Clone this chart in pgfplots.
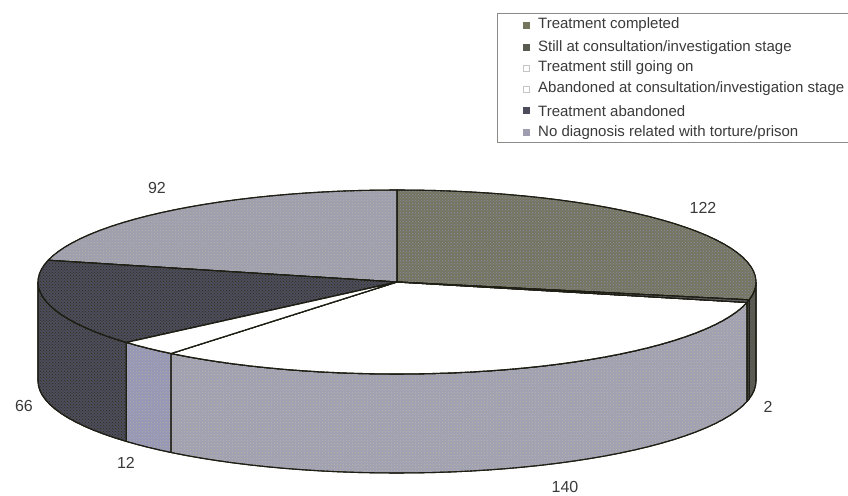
\documentclass[border=0pt]{standalone}
\usepackage{pgfplots}
\pgfplotsset{compat=1.18}
\usepackage{fontspec}
\usetikzlibrary{patterns}
\setmainfont{Liberation Sans}

% slice colours (base and stipple)
\definecolor{edge}{HTML}{1E1E14}
\definecolor{completedTop}{HTML}{757560}
\definecolor{completedDot}{HTML}{8C8CA8}
\definecolor{completedWall}{HTML}{5A5A50}
\definecolor{stillWall}{HTML}{5E5E62}
\definecolor{goingWall}{HTML}{A0A0B4}
\definecolor{goingDot}{HTML}{B8B8A4}
\definecolor{abandConsWall}{HTML}{9696B8}
\definecolor{abandConsDot}{HTML}{B0B0A0}
\definecolor{abandTop}{HTML}{4C4C5C}
\definecolor{abandDot}{HTML}{2E2E18}
\definecolor{noDiagTop}{HTML}{9E9EB0}
\definecolor{noDiagDot}{HTML}{B4B4A2}
\definecolor{frameGrey}{HTML}{8A8A86}
\definecolor{legendInk}{HTML}{3A3A3A}

% patient counts per outcome
\def\vA{122}\def\vB{2}\def\vC{140}\def\vD{12}\def\vE{66}\def\vF{92}
\pgfmathsetmacro\total{\vA+\vB+\vC+\vD+\vE+\vF}
\pgfmathsetmacro\aA{\vA/\total*360}
\pgfmathsetmacro\aB{\aA+\vB/\total*360}
\pgfmathsetmacro\aC{\aB+\vC/\total*360}
\pgfmathsetmacro\aD{\aC+\vD/\total*360}
\pgfmathsetmacro\aE{\aD+\vE/\total*360}

% pie geometry on the pixel-sized axis
\def\cx{397}\def\cy{282}\def\rx{359}\def\ry{92}\def\depth{99}

% appends points of the rim between two angles, shifted down by #3
\def\rimpoints#1#2#3{%
  \pgfmathtruncatemacro\nseg{max(1,ceil(abs(#2-#1)/3))}%
  \foreach \k in {0,...,\nseg}{%
    \pgfmathsetmacro\ang{#1+(#2-#1)*\k/\nseg}%
    \pgfmathsetmacro\px{\cx+\rx*sin(\ang)}%
    \pgfmathsetmacro\py{\cy-\ry*cos(\ang)+#3}%
    \xdef\pts{\pts (\px,\py)}%
  }}
% upper face of one slice: angles, base colour, stipple colour
\def\topslice#1#2#3#4{%
  \gdef\pts{(\cx,\cy)}%
  \rimpoints{#1}{#2}{0}%
  \xdef\pts{\pts (\cx,\cy)}%
  \edef\cmd{\noexpand\addplot[fill=#3,draw=edge,line width=1.1pt,line join=round,
    postaction={pattern=crosshatch dots,pattern color=#4}] coordinates {\pts};}%
  \cmd}
% outer wall of one slice: angles, base colour, stipple colour
\def\wallslice#1#2#3#4{%
  \gdef\pts{}%
  \rimpoints{#1}{#2}{0}%
  \rimpoints{#2}{#1}{\depth}%
  \pgfmathsetmacro\qx{\cx+\rx*sin(#1)}%
  \pgfmathsetmacro\qy{\cy-\ry*cos(#1)}%
  \xdef\pts{\pts (\qx,\qy)}%
  \edef\cmd{\noexpand\addplot[fill=#3,draw=edge,line width=1.1pt,line join=round,
    postaction={pattern=crosshatch dots,pattern color=#4}] coordinates {\pts};}%
  \cmd}

\begin{document}
\begin{tikzpicture}
\begin{axis}[
  scale only axis, width=848pt, height=494pt,
  xmin=0, xmax=848, ymin=0, ymax=494, y dir=reverse,
  hide axis, clip=false,
]
  % keep the whole plotting area inside the page
  \path (axis cs:0,0) (axis cs:848,494);

  % walls, from the sides towards the front
  \wallslice{90}{\aA}{completedWall}{stillWall}
  \wallslice{\aA}{\aB}{stillWall}{stillWall}
  \wallslice{\aD}{270}{abandTop}{abandDot}
  \wallslice{\aC}{\aD}{abandConsWall}{abandConsDot}
  \wallslice{\aB}{\aC}{goingWall}{goingDot}
  % upper faces
  \topslice{0}{\aA}{completedTop}{completedDot}
  \topslice{\aE}{360}{noDiagTop}{noDiagDot}
  \topslice{\aD}{\aE}{abandTop}{abandDot}
  \topslice{\aB}{\aC}{white}{white}
  \topslice{\aC}{\aD}{white}{white}
  \topslice{\aA}{\aB}{stillWall}{stillWall}

  % value labels
  \def\lab{\fontsize{16}{18}\selectfont\color{legendInk}}
  \node at (axis cs:157,188) {\lab\vF};
  \node at (axis cs:703,208) {\lab\vA};
  \node at (axis cs:768,407) {\lab\vB};
  \node at (axis cs:565,487) {\lab\vC};
  \node at (axis cs:126,463) {\lab\vD};
  \node at (axis cs:24,406)  {\lab\vE};

  % key
  \addplot[draw=frameGrey, line width=0.8pt] coordinates {(847.5,13.5) (497,13.5) (497,142.5) (847.5,142.5)};
  \addplot[only marks, mark=square*, mark size=2.8pt, mark options={draw=completedTop, fill=completedTop}] coordinates {(526,25)};
  \addplot[only marks, mark=square*, mark size=2.8pt, mark options={draw=completedWall, fill=completedWall}] coordinates {(526,47)};
  \addplot[only marks, mark=square*, mark size=2.8pt, mark options={draw=frameGrey!50, fill=white}] coordinates {(526,68)};
  \addplot[only marks, mark=square*, mark size=2.8pt, mark options={draw=frameGrey!50, fill=white}] coordinates {(526,89)};
  \addplot[only marks, mark=square*, mark size=2.8pt, mark options={draw=abandTop, fill=abandTop}] coordinates {(526,110)};
  \addplot[only marks, mark=square*, mark size=2.8pt, mark options={draw=noDiagTop, fill=noDiagTop}] coordinates {(526,132)};
  \def\keyf{\fontsize{15}{17}\selectfont\color{legendInk}}
  \node[anchor=west, inner sep=0pt] at (axis cs:538,25)  {\keyf Treatment completed};
  \node[anchor=west, inner sep=0pt] at (axis cs:538,48)  {\keyf Still at consultation/investigation stage};
  \node[anchor=west, inner sep=0pt] at (axis cs:538,68)  {\keyf Treatment still going on};
  \node[anchor=west, inner sep=0pt] at (axis cs:538,89)  {\keyf Abandoned at consultation/investigation stage};
  \node[anchor=west, inner sep=0pt] at (axis cs:538,111) {\keyf Treatment abandoned};
  \node[anchor=west, inner sep=0pt] at (axis cs:538,133) {\keyf No diagnosis related with torture/prison};
\end{axis}
\end{tikzpicture}
\end{document}
